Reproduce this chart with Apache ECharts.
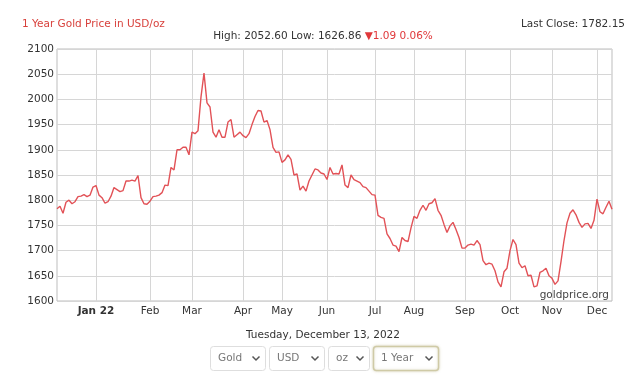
<!DOCTYPE html>
<html><head><meta charset="utf-8">
<script src="https://cdn.jsdelivr.net/npm/echarts@6/dist/echarts.min.js"></script>
<style>html,body{margin:0;padding:0;background:#fff}#c{width:630px;height:384px}</style>
</head><body><div id="c"></div>
<script>
// Gold price (USD/oz), Dec 2021 - Dec 13 2022, sampled across the chart
const prices = [
1783,1788,1774,1796,1800,1793,1797,1807,1808,1811,1807,1810,1826,1829,1810,1805,1794,1797,1808,1825,
1821,1817,1819,1838,1838,1840,1838,1849,1805,1793,1792,1798,1807,1808,1810,1815,1830,1829,1865,1860,
1900,1900,1905,1905,1890,1935,1932,1938,2005,2052,1993,1985,1935,1925,1940,1925,1925,1955,1960,1925,
1930,1935,1928,1924,1932,1950,1966,1978,1977,1955,1958,1940,1905,1895,1896,1875,1880,1890,1881,1850,
1852,1820,1828,1818,1838,1850,1862,1860,1854,1852,1841,1865,1852,1853,1852,1870,1830,1825,1850,1841,
1838,1835,1827,1825,1818,1811,1810,1770,1766,1764,1733,1724,1711,1709,1698,1726,1720,1718,1745,1768,
1764,1780,1790,1780,1793,1795,1803,1780,1770,1752,1736,1749,1756,1742,1726,1705,1705,1711,1713,1711,
1720,1712,1680,1672,1675,1673,1660,1638,1628,1658,1665,1700,1722,1712,1675,1666,1670,1650,1651,1628,
1630,1657,1660,1665,1650,1645,1633,1640,1678,1720,1755,1774,1781,1771,1756,1746,1753,1754,1744,1760,
1802,1777,1773,1786,1798,1782
];
const monthLabels = ['Jan 22','Feb','Mar','Apr','May','Jun','Jul','Aug','Sep','Oct','Nov','Dec'];
const monthIndex  = [13, 31, 45, 62, 75, 90, 106, 119, 136, 151, 165, 180];
const yMin = 1600, yMax = 2100, yStep = 50;
const titleText = '1 Year Gold Price in USD/oz';
const lastClose = 'Last Close: 1782.15';
const statsText = 'High: 2052.60 Low: 1626.86 ';
const changeText = '\u25BC1.09 0.06%';
const dateText = 'Tuesday, December 13, 2022';
const selectors = ['Gold','USD','oz','1 Year'];
const watermark = 'goldprice.org';

const categories = prices.map((_, i) => {
  const k = monthIndex.indexOf(i);
  return k >= 0 ? monthLabels[k] : 'd' + i;
});
const isMonth = (i) => monthIndex.indexOf(i) >= 0;

const FONT = 'DejaVu Sans';
const chart = echarts.init(document.getElementById('c'), null, {renderer: 'canvas'});

// dropdown boxes (decoration)
const boxes = [
  {x: 210, w: 55}, {x: 269, w: 55}, {x: 328, w: 41}, {x: 373, w: 65}
];
const graphics = [];
selectors.forEach((s, k) => {
  const b = boxes[k];
  graphics.push({
    type: 'rect', shape: {x: b.x + 0.5, y: 346.5, width: b.w, height: 24, r: 3},
    style: {fill: '#fff', stroke: k === 3 ? '#cfcaa6' : '#dedede', lineWidth: k === 3 ? 1.5 : 1,
            shadowBlur: k === 3 ? 3 : 0, shadowColor: 'rgba(180,170,120,0.4)'}
  });
  graphics.push({
    type: 'text', x: b.x + 8, y: 358.5,
    style: {text: s, fill: '#777', font: '10.5px "' + FONT + '"', verticalAlign: 'middle'}
  });
  const cx = b.x + b.w - 9;
  graphics.push({
    type: 'polyline', shape: {points: [[cx - 3.5, 356.5], [cx, 360], [cx + 3.5, 356.5]]},
    style: {stroke: '#555', lineWidth: 1.5, fill: null}
  });
});
graphics.push({
  type: 'text', x: 22, y: 24,
  style: {text: titleText, fill: '#d8413c', font: '10.5px "' + FONT + '"', verticalAlign: 'middle'}
});
graphics.push({
  type: 'text', x: 625, y: 24,
  style: {text: lastClose, fill: '#333', font: '10.5px "' + FONT + '"', align: 'right', verticalAlign: 'middle'}
});
graphics.push({
  type: 'text', x: 323, y: 36,
  style: {
    text: '{g|' + statsText + '}{r|' + changeText + '}',
    align: 'center', verticalAlign: 'middle',
    rich: {
      g: {fill: '#333', fontFamily: FONT, fontSize: 10.5},
      r: {fill: '#e0383a', fontFamily: FONT, fontSize: 10.5}
    }
  }
});
graphics.push({
  type: 'text', x: 323, y: 335,
  style: {text: dateText, fill: '#333', font: '10.5px "' + FONT + '"', align: 'center', verticalAlign: 'middle'}
});
graphics.push({
  type: 'text', x: 609, y: 295, z: 10,
  style: {text: watermark, fill: '#444', font: '10.5px "' + FONT + '"', align: 'right', verticalAlign: 'middle'}
});

chart.setOption({
  animation: false,
  backgroundColor: '#fff',
  grid: {left: 57, right: 18, top: 49, bottom: 83, show: true, borderColor: '#bdbdbd', borderWidth: 1, containLabel: false},
  xAxis: {
    type: 'category', data: categories, boundaryGap: false,
    axisLine: {show: false}, axisTick: {show: false},
    axisLabel: {
      interval: (i) => isMonth(i), margin: 5, color: '#333', fontFamily: FONT, fontSize: 10.5,
      formatter: (v, i) => i === monthIndex[0] ? '{b|' + v + '}' : v,
      rich: {b: {fontWeight: 'bold', color: '#333', fontFamily: FONT, fontSize: 10.5}}
    },
    splitLine: {show: true, interval: (i) => isMonth(i), lineStyle: {color: '#d6d6d6', width: 1}}
  },
  yAxis: {
    type: 'value', min: yMin, max: yMax, interval: yStep,
    axisLine: {show: false}, axisTick: {show: false},
    axisLabel: {margin: 3, color: '#333', fontFamily: FONT, fontSize: 10.5, formatter: (v) => String(v)},
    splitLine: {show: true, lineStyle: {color: '#d6d6d6', width: 1}}
  },
  series: [{
    type: 'line', data: prices, showSymbol: false, symbol: 'none',
    lineStyle: {color: '#e25257', width: 1.4}, z: 5
  }],
  graphic: graphics
});
</script>
</body></html>
